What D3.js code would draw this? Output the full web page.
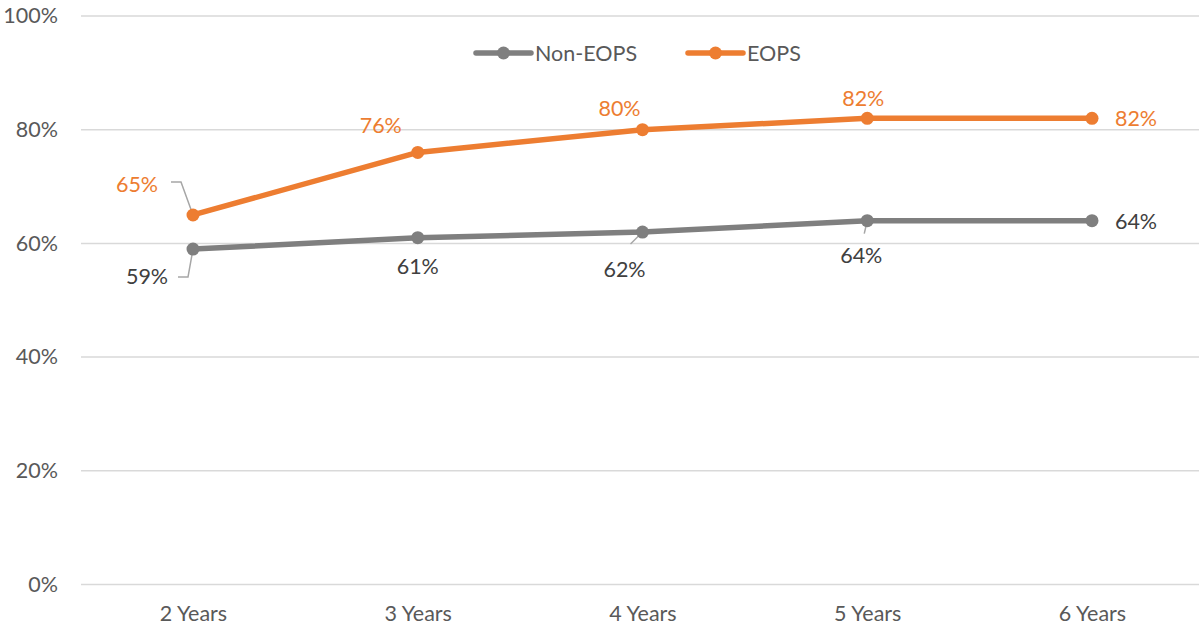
<!DOCTYPE html>
<html><head><meta charset="utf-8">
<script src="https://cdn.jsdelivr.net/npm/d3@7"></script>
<style>body{margin:0;background:#fff}svg{display:block}text{font-family:Lato,"Open Sans",sans-serif}</style>
</head><body><svg id="c" width="1199" height="630"></svg>
<script>
const categories = ["2 Years","3 Years","4 Years","5 Years","6 Years"];
const nonEops = [59,61,62,64,64];
const eops = [65,76,80,82,82];
const yTicks = [0,20,40,60,80,100];
const seriesNames = ["Non-EOPS","EOPS"];

// label layout (offsets in px relative to point), separate from data
const nonLabelLayout = [
  {dx:-46, dy:35, leader:[[0,0],[-5,28],[-15,28]]},
  {dx:0, dy:36},
  {dx:-18, dy:45, leader:[[0,0],[-12,12]]},
  {dx:-6, dy:42, leader:[[0,0],[-3,13]]},
  {dx:44, dy:8}
];
const eopsLabelLayout = [
  {dx:-56, dy:-23, leader:[[0,0],[-12,-33],[-22,-33]]},
  {dx:-37, dy:-19},
  {dx:-23, dy:-14},
  {dx:-4, dy:-12},
  {dx:44, dy:8}
];

const svg = d3.select("#c");
const W = 1199, H = 630;
const m = {left:81, right:0, top:16, bottom:45};
const x = d3.scalePoint().domain(categories).range([193, 1092]);
const y = d3.scaleLinear().domain([0,100]).range([584.5, 16]);

const gridCol = "#D9D9D9", gray = "#7F7F7F", orange = "#ED7D31";
const FS = "21.5px";

svg.append("g").selectAll("line").data(yTicks).join("line")
  .attr("x1", m.left).attr("x2", W).attr("y1", d=>y(d)).attr("y2", d=>y(d))
  .attr("stroke", gridCol).attr("stroke-width", 1.5);

const yAxis = d3.axisLeft(y).tickValues(yTicks).tickFormat(d=>d+"%").tickSize(0).tickPadding(0);
const ya = svg.append("g").attr("transform","translate(58,0)").call(yAxis);
ya.select(".domain").remove();
ya.selectAll("text").attr("fill","#595959").style("font-size",FS).style("font-family","Lato,'Open Sans',sans-serif");

const xAxis = d3.axisBottom(x).tickSize(0).tickPadding(0);
const xa = svg.append("g").attr("transform","translate(0,606)").call(xAxis);
xa.select(".domain").remove();
xa.selectAll("text").attr("fill","#595959").style("font-size",FS).style("font-family","Lato,'Open Sans',sans-serif");

const line = d3.line().x((d,i)=>x(categories[i])).y(d=>y(d));

function drawSeries(vals, color, labelColor, layout){
  const g = svg.append("g");
  vals.forEach((v,i)=>{
    const L = layout[i];
    if(L.leader){
      const px = x(categories[i]), py = y(v);
      g.append("path").attr("d", d3.line()(L.leader.map(p=>[px+p[0], py+p[1]])))
        .attr("fill","none").attr("stroke","#A6A6A6").attr("stroke-width",1.5);
    }
  });
  g.append("path").datum(vals).attr("d", line).attr("fill","none")
    .attr("stroke", color).attr("stroke-width", 5.5).attr("stroke-linejoin","round");
  g.selectAll("circle").data(vals).join("circle")
    .attr("cx",(d,i)=>x(categories[i])).attr("cy",d=>y(d)).attr("r",6.5).attr("fill",color);
  g.selectAll("text.lbl").data(vals).join("text").attr("class","lbl")
    .attr("x",(d,i)=>x(categories[i])+layout[i].dx)
    .attr("y",(d,i)=>y(d)+layout[i].dy)
    .attr("text-anchor","middle").attr("fill",labelColor)
    .style("font-size",FS).text(d=>d+"%");
}
drawSeries(nonEops, gray, "#404040", nonLabelLayout);
drawSeries(eops, orange, orange, eopsLabelLayout);

const legendX = [476, 688];
const legendCols = [gray, orange];
seriesNames.forEach((n,i)=>{
  const lx = legendX[i], ly = 53;
  svg.append("line").attr("x1",lx).attr("x2",lx+55).attr("y1",ly).attr("y2",ly)
    .attr("stroke",legendCols[i]).attr("stroke-width",5.5).attr("stroke-linecap","round");
  svg.append("circle").attr("cx",lx+27.5).attr("cy",ly).attr("r",6.5).attr("fill",legendCols[i]);
  svg.append("text").attr("x",lx+59).attr("y",ly+8).attr("fill","#595959")
    .style("font-size",FS).text(n);
});
</script></body></html>
